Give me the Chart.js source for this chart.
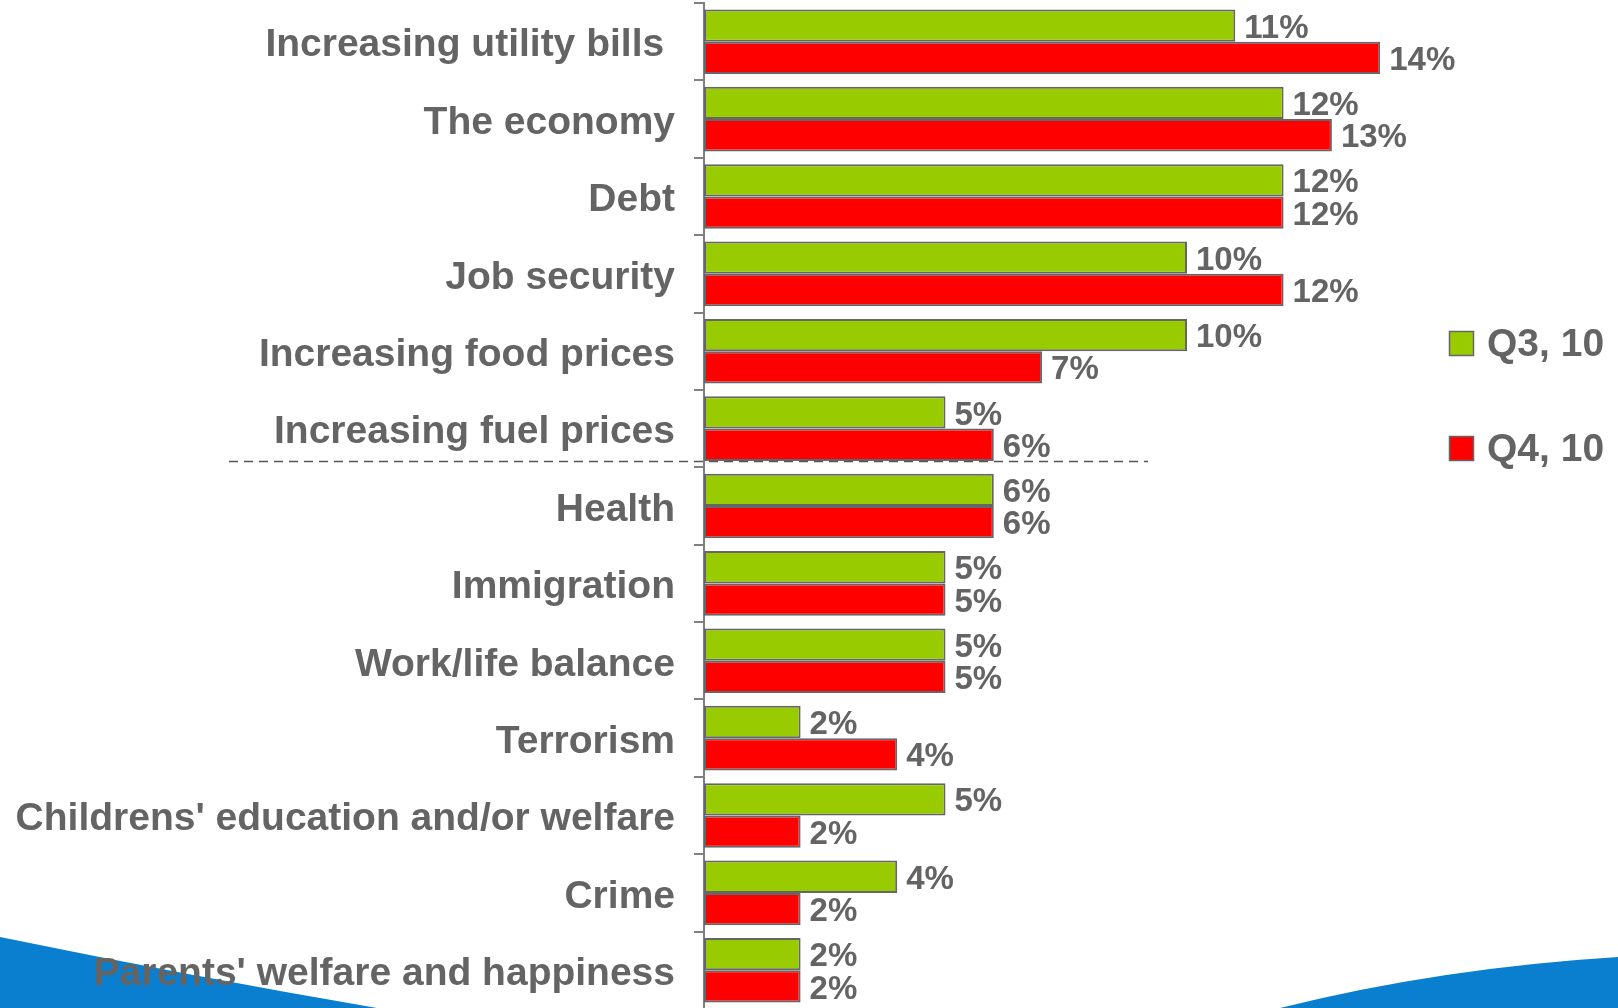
<!DOCTYPE html>
<html>
<head>
<meta charset="utf-8">
<script src="https://cdn.jsdelivr.net/npm/chart.js@4"></script>
<style>
  html, body { margin: 0; padding: 0; background: #fff; overflow: hidden; }
  #chart { display: block; }
</style>
</head>
<body>
<canvas id="chart" width="1618" height="1011"></canvas>
<script>
const categories = [
  'Increasing utility bills ',
  'The economy',
  'Debt',
  'Job security',
  'Increasing food prices',
  'Increasing fuel prices',
  'Health',
  'Immigration',
  'Work/life balance',
  'Terrorism',
  "Childrens' education and/or welfare",
  'Crime',
  "Parents' welfare and happiness"
];
const seriesNames = ['Q3, 10', 'Q4, 10'];
const q3Values = [11, 12, 12, 10, 10, 5, 6, 5, 5, 2, 5, 4, 2];
const q4Values = [14, 13, 12, 12, 7, 6, 6, 5, 5, 4, 2, 2, 2];

const GREEN = '#99cc00';
const RED = '#ff0000';
const EDGE = '#666666';
const TEXT = '#646464';
const FONT = '"Liberation Sans", Arial, sans-serif';

// blue corner swooshes behind everything
const swooshes = {
  id: 'swooshes',
  beforeDraw(chart) {
    const ctx = chart.ctx;
    const h = chart.height;
    ctx.save();
    ctx.fillStyle = '#0a7fd0';
    ctx.beginPath();
    ctx.moveTo(0, 937);
    ctx.quadraticCurveTo(190, 976, 377, 1008);
    ctx.lineTo(395, h);
    ctx.lineTo(0, h);
    ctx.closePath();
    ctx.fill();
    ctx.beginPath();
    ctx.moveTo(1262, h);
    ctx.lineTo(1280, 1008);
    ctx.quadraticCurveTo(1440, 968, 1618, 957);
    ctx.lineTo(1618, h);
    ctx.closePath();
    ctx.fill();
    ctx.restore();
  }
};

// percentage labels at the end of each bar + dashed separator
const barLabels = {
  id: 'barLabels',
  afterDatasetsDraw(chart) {
    const ctx = chart.ctx;
    ctx.save();
    ctx.font = 'bold 33px ' + FONT;
    ctx.fillStyle = TEXT;
    ctx.textAlign = 'left';
    ctx.textBaseline = 'middle';
    chart.data.datasets.forEach((ds, i) => {
      chart.getDatasetMeta(i).data.forEach((bar, j) => {
        ctx.fillText(ds.data[j] + '%', bar.x + 9, bar.y + 3);
      });
    });

    // separator under "Increasing fuel prices"
    const fuel = chart.getDatasetMeta(1).data[5];
    const y = Math.round(fuel.y + fuel.height / 2) + 0.5;
    ctx.strokeStyle = '#555';
    ctx.lineWidth = 1.5;
    ctx.setLineDash([9, 6]);
    ctx.beginPath();
    ctx.moveTo(229, y);
    ctx.lineTo(1148, y);
    ctx.stroke();
    ctx.restore();
  }
};

const sideLegend = {
  id: 'sideLegend',
  afterDraw(chart) {
    const ctx = chart.ctx;
    const rows = [343, 448];
    ctx.save();
    chart.data.datasets.forEach((ds, i) => {
      const cy = rows[i];
      ctx.fillStyle = ds.backgroundColor;
      ctx.fillRect(1449, cy - 12, 25, 25);
      ctx.strokeStyle = EDGE;
      ctx.lineWidth = 1.5;
      ctx.strokeRect(1449.5, cy - 11.5, 24, 24);
      ctx.fillStyle = TEXT;
      ctx.font = 'bold 39px ' + FONT;
      ctx.textAlign = 'left';
      ctx.textBaseline = 'middle';
      ctx.fillText(ds.label, 1487, cy + 2);
    });
    ctx.restore();
  }
};

new Chart(document.getElementById('chart'), {
  type: 'bar',
  data: {
    labels: categories,
    datasets: [
      {
        label: seriesNames[0],
        data: q3Values,
        backgroundColor: GREEN,
        borderColor: EDGE,
        borderWidth: 2,
        borderSkipped: false
      },
      {
        label: seriesNames[1],
        data: q4Values,
        backgroundColor: RED,
        borderColor: EDGE,
        borderWidth: 2,
        borderSkipped: false
      }
    ]
  },
  options: {
    indexAxis: 'y',
    responsive: false,
    animation: false,
    categoryPercentage: 0.835,
    barPercentage: 1,
    layout: { padding: { top: 3, bottom: 2, left: 0, right: 189.5 } },
    plugins: {
      legend: { display: false },
      tooltip: { enabled: false }
    },
    scales: {
      x: { display: false, min: 0, max: 15 },
      y: {
        afterFit(scale) {
          scale.width = 704;
          scale.paddingTop = 0;
          scale.paddingBottom = 0;
        },
        grid: {
          drawOnChartArea: false,
          drawTicks: true,
          tickLength: 10,
          color: '#808080',
          lineWidth: 2
        },
        border: { display: true, color: '#808080', width: 2 },
        ticks: {
          autoSkip: false,
          padding: 19,
          labelOffset: 4,
          color: TEXT,
          font: { family: FONT, size: 39, weight: 'bold' }
        }
      }
    }
  },
  plugins: [swooshes, barLabels, sideLegend]
});
</script>
</body>
</html>
